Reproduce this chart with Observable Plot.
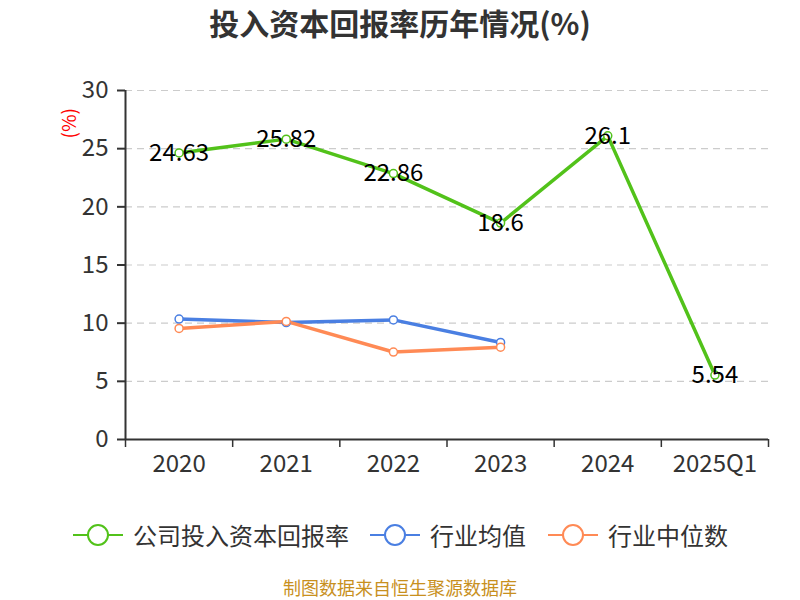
<!DOCTYPE html>
<html><head><meta charset="utf-8">
<script src="https://cdn.jsdelivr.net/npm/d3@7"></script>
<script src="https://cdn.jsdelivr.net/npm/@observablehq/plot@0.6"></script>
<style>
body{margin:0;background:#fff;font-family:"Noto Sans CJK SC","Noto Sans",sans-serif;width:800px;height:600px;overflow:hidden}
#title{height:50px;line-height:44px;text-align:center;font-size:30px;font-weight:bold;color:#333}
#legend{height:80px;position:relative}
.item{position:absolute;top:27px;display:flex;align-items:center;font-size:24px;color:#333}
.item svg{margin-right:10px}
#caption{text-align:center;font-size:18px;color:#c8901e;margin-top:4px}
</style></head>
<body>
<div id="title">投入资本回报率历年情况(%)</div>
<div id="chart"></div>
<div id="legend"></div>
<div id="caption">制图数据来自恒生聚源数据库</div>
<script>
const categories = ["2020","2021","2022","2023","2024","2025Q1"];
const company = [24.63, 25.82, 22.86, 18.6, 26.1, 5.54];
const industryAvg = [10.35, 10.05, 10.28, 8.34];
const industryMedian = [9.55, 10.15, 7.52, 7.94];
const yTicks = [0, 5, 10, 15, 20, 25, 30];
const seriesNames = ["公司投入资本回报率", "行业均值", "行业中位数"];
const colors = ["#52c21a", "#4a7fe2", "#ff8a55"];

const toRows = arr => arr.map((v, i) => ({i, v}));
const comp = toRows(company), avg = toRows(industryAvg), med = toRows(industryMedian);
const idx = categories.map((_, i) => i);
const bounds = [...idx.map(i => i - 0.5), categories.length - 0.5];

const chart = Plot.plot({
  width: 800, height: 440,
  marginLeft: 125, marginRight: 32, marginTop: 40, marginBottom: 51,
  style: {fontSize: "24px", fontFamily: '"Noto Sans CJK SC","Noto Sans",sans-serif', color: "#333", background: "#fff"},
  x: {domain: [-0.5, categories.length - 0.5]},
  y: {domain: [0, 30]},
  marks: [
    Plot.ruleY(yTicks.filter(d => d > 0), {stroke: "#ccc", strokeWidth: 1.2, strokeDasharray: "7,5"}),
    Plot.axisY({ticks: yTicks, tickSize: 8, tickPadding: 9, label: null, strokeWidth: 2, fill: "#333", fontSize: 24}),
    Plot.axisX({ticks: idx, tickSize: 0, tickPadding: 15, tickFormat: i => categories[i], label: null, fill: "#333", fontSize: 24}),
    Plot.axisX({ticks: bounds, tickSize: 8, tickFormat: () => "", label: null, strokeWidth: 1.5}),
    Plot.ruleX([-0.5], {stroke: "#333", strokeWidth: 2}),
    Plot.ruleY([0], {stroke: "#333", strokeWidth: 2}),
    Plot.text(["(%)"], {frameAnchor: "top-left", dx: -63, dy: 48, rotate: -90, fill: "red", fontSize: 19}),
    Plot.line(avg, {x: "i", y: "v", stroke: colors[1], strokeWidth: 3.5}),
    Plot.line(med, {x: "i", y: "v", stroke: colors[2], strokeWidth: 3.5}),
    Plot.line(comp, {x: "i", y: "v", stroke: colors[0], strokeWidth: 3.5}),
    Plot.dot(avg, {x: "i", y: "v", r: 4, fill: "white", stroke: colors[1], strokeWidth: 1.5}),
    Plot.dot(med, {x: "i", y: "v", r: 4, fill: "white", stroke: colors[2], strokeWidth: 1.5}),
    Plot.dot(comp, {x: "i", y: "v", r: 4, fill: "white", stroke: colors[0], strokeWidth: 1.5}),
    Plot.text(comp, {x: "i", y: "v", text: d => String(d.v), fill: "#000", fontSize: 24, dy: 0})
  ]
});
document.getElementById("chart").appendChild(chart);

const legend = document.getElementById("legend");
const lefts = [73, 370, 548];
seriesNames.forEach((name, k) => {
  const div = document.createElement("div");
  div.className = "item";
  div.style.left = lefts[k] + "px";
  div.innerHTML = `<svg width="50" height="24"><line x1="0" y1="12" x2="50" y2="12" stroke="${colors[k]}" stroke-width="2"/><circle cx="25" cy="12" r="10" fill="white" stroke="${colors[k]}" stroke-width="2"/></svg><span>${name}</span>`;
  legend.appendChild(div);
});
</script>
</body></html>
